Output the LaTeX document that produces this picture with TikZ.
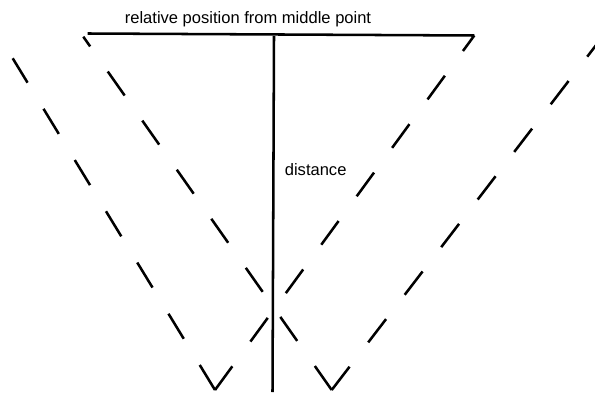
\documentclass[tikz,border=0pt]{standalone}
\usepackage{fontspec}
\setmainfont{Liberation Sans}
\begin{document}
\begin{tikzpicture}[x=0.75pt,y=-0.75pt,
  solidline/.style={line width=1.9pt},
  dashline/.style={line width=1.9pt,dash pattern=on 22pt off 23pt},
  lbl/.style={inner sep=0pt,font=\fontsize{12.4pt}{14pt}\selectfont}]
\useasboundingbox (0,0) rectangle (595,392);
\clip (0,0) rectangle (595,392);
% coordinates
\coordinate (A1) at (215,390);
\coordinate (B1) at (12.7,58.3);
\coordinate (C1) at (474.3,35.5);
\coordinate (A2) at (331.7,390);
\coordinate (B2) at (83.3,36.7);
\coordinate (C2) at (605,33.5);
\coordinate (H1) at (87.7,33.5);
\coordinate (V1) at (274,36);
\coordinate (V2) at (272.5,392);
% solid lines
\draw[solidline] (H1) -- (C1);
\draw[solidline] (V1) -- (V2);
% dashed V shapes
\draw[dashline] (A1) -- (B1);
\draw[dashline] (A1) -- (C1);
\draw[dashline] (A2) -- (B2);
\draw[dashline] (A2) -- (C2);
% labels
\node[lbl,anchor=base] (top) at (248,23.3) {relative position from middle point};
\node[lbl,anchor=base west] (dist) at (284.6,175.3) {distance};
\end{tikzpicture}
\end{document}
